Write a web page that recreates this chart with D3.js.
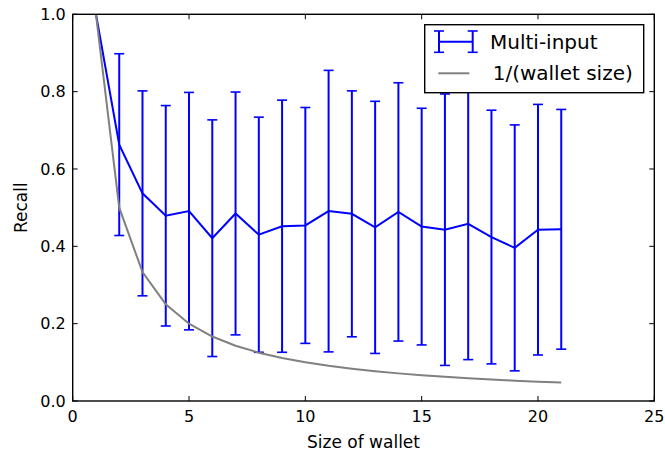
<!DOCTYPE html>
<html>
<head>
<meta charset="utf-8">
<script src="https://cdn.jsdelivr.net/npm/d3@7"></script>
<style>
  html, body { margin: 0; padding: 0; background: #fff; }
  svg { display: block; font-family: "DejaVu Sans", sans-serif; }
</style>
</head>
<body>
<svg id="chart" width="665" height="456"></svg>
<script>
// Data
const walletSizes = [1,2,3,4,5,6,7,8,9,10,11,12,13,14,15,16,17,18,19,20,21];
const recallMean  = [1.0,0.663,0.537,0.479,0.491,0.421,0.485,0.430,0.452,0.454,0.491,0.484,0.449,0.489,0.451,0.443,0.458,0.424,0.396,0.443,0.444];
const recallStd   = [0.0,0.235,0.265,0.285,0.307,0.306,0.314,0.304,0.326,0.305,0.364,0.318,0.326,0.334,0.306,0.351,0.351,0.328,0.318,0.324,0.310];
const inverseSize = [1/1,1/2,1/3,1/4,1/5,1/6,1/7,1/8,1/9,1/10,1/11,1/12,1/13,1/14,1/15,1/16,1/17,1/18,1/19,1/20,1/21];
const xTicks = [0,5,10,15,20,25];
const yTicks = [0.0,0.2,0.4,0.6,0.8,1.0];
const seriesNames = ["Multi-input", "1/(wallet size)"];

const svg = d3.select("#chart");
const L = 72.7, R = 654.3, T = 14.3, B = 401;
const x = d3.scaleLinear().domain([0,25]).range([L,R]);
const y = d3.scaleLinear().domain([0,1]).range([B,T]);
const blue = "#0000ff", gray = "#808080";

const plot = svg.append("g");

// error bars
const eb = plot.selectAll("g.eb").data(walletSizes.map((w,i)=>({w, m:recallMean[i], s:recallStd[i]})).filter(d=>d.s>0))
  .enter().append("g");
eb.append("line")
  .attr("x1", d=>x(d.w)).attr("x2", d=>x(d.w))
  .attr("y1", d=>y(d.m-d.s)).attr("y2", d=>y(d.m+d.s))
  .attr("stroke", blue).attr("stroke-width", 2);
[-1,1].forEach(sg=>{
  eb.append("line")
    .attr("x1", d=>x(d.w)-5).attr("x2", d=>x(d.w)+5)
    .attr("y1", d=>y(d.m+sg*d.s)).attr("y2", d=>y(d.m+sg*d.s))
    .attr("stroke", blue).attr("stroke-width", 1.6);
});

// mean line
plot.append("path")
  .datum(walletSizes.map((w,i)=>[w, recallMean[i]]))
  .attr("d", d3.line().x(d=>x(d[0])).y(d=>y(d[1])))
  .attr("fill","none").attr("stroke", blue).attr("stroke-width", 2);

// 1/x line
plot.append("path")
  .datum(walletSizes.map((w,i)=>[w, inverseSize[i]]))
  .attr("d", d3.line().x(d=>x(d[0])).y(d=>y(d[1])))
  .attr("fill","none").attr("stroke", gray).attr("stroke-width", 2);

// ticks (inward, all sides)
const tl = 5;
const tg = svg.append("g").attr("stroke","#000").attr("stroke-width",1);
xTicks.forEach(t=>{
  tg.append("line").attr("x1",x(t)).attr("x2",x(t)).attr("y1",B).attr("y2",B-tl);
  tg.append("line").attr("x1",x(t)).attr("x2",x(t)).attr("y1",T).attr("y2",T+tl);
});
yTicks.forEach(t=>{
  tg.append("line").attr("x1",L).attr("x2",L+tl).attr("y1",y(t)).attr("y2",y(t));
  tg.append("line").attr("x1",R).attr("x2",R-tl).attr("y1",y(t)).attr("y2",y(t));
});

// spines
svg.append("rect").attr("x",L).attr("y",T).attr("width",R-L).attr("height",B-T)
  .attr("fill","none").attr("stroke","#000").attr("stroke-width",1.4);

// tick labels
svg.append("g").selectAll("text").data(xTicks).enter().append("text")
  .attr("x", d=>x(d)).attr("y", B+21).attr("text-anchor","middle")
  .attr("font-size",16).text(d=>d3.format("d")(d));
svg.append("g").selectAll("text").data(yTicks).enter().append("text")
  .attr("x", L-7).attr("y", d=>y(d)+5.8).attr("text-anchor","end")
  .attr("font-size",16).text(d=>d3.format(".1f")(d));

// axis labels
svg.append("text").attr("x",(L+R)/2).attr("y",448).attr("text-anchor","middle")
  .attr("font-size",17).text("Size of wallet");
svg.append("text").attr("transform",`translate(27.3,${(T+B)/2}) rotate(-90)`)
  .attr("text-anchor","middle").attr("font-size",17).text("Recall");

// legend
const lg = svg.append("g");
lg.append("rect").attr("x",424.7).attr("y",24.7).attr("width",219).attr("height",68)
  .attr("fill","#fff").attr("stroke","#000").attr("stroke-width",1.4);
const hx1 = 439, hx2 = 472.7, hy = 41.7;
lg.append("line").attr("x1",hx1).attr("x2",hx2).attr("y1",hy).attr("y2",hy).attr("stroke",blue).attr("stroke-width",2);
[hx1,hx2].forEach(px=>{
  lg.append("line").attr("x1",px).attr("x2",px).attr("y1",31).attr("y2",52.3).attr("stroke",blue).attr("stroke-width",2);
  lg.append("line").attr("x1",px-5).attr("x2",px+5).attr("y1",31).attr("y2",31).attr("stroke",blue).attr("stroke-width",1.6);
  lg.append("line").attr("x1",px-5).attr("x2",px+5).attr("y1",52.3).attr("y2",52.3).attr("stroke",blue).attr("stroke-width",1.6);
});
lg.append("line").attr("x1",438.3).attr("x2",469.3).attr("y1",73.3).attr("y2",73.3).attr("stroke",gray).attr("stroke-width",2);
lg.append("text").attr("x",490).attr("y",48.8).attr("font-size",20).text(seriesNames[0]);
lg.append("text").attr("x",492.7).attr("y",79.8).attr("font-size",20).text(seriesNames[1]);
</script>
</body>
</html>
